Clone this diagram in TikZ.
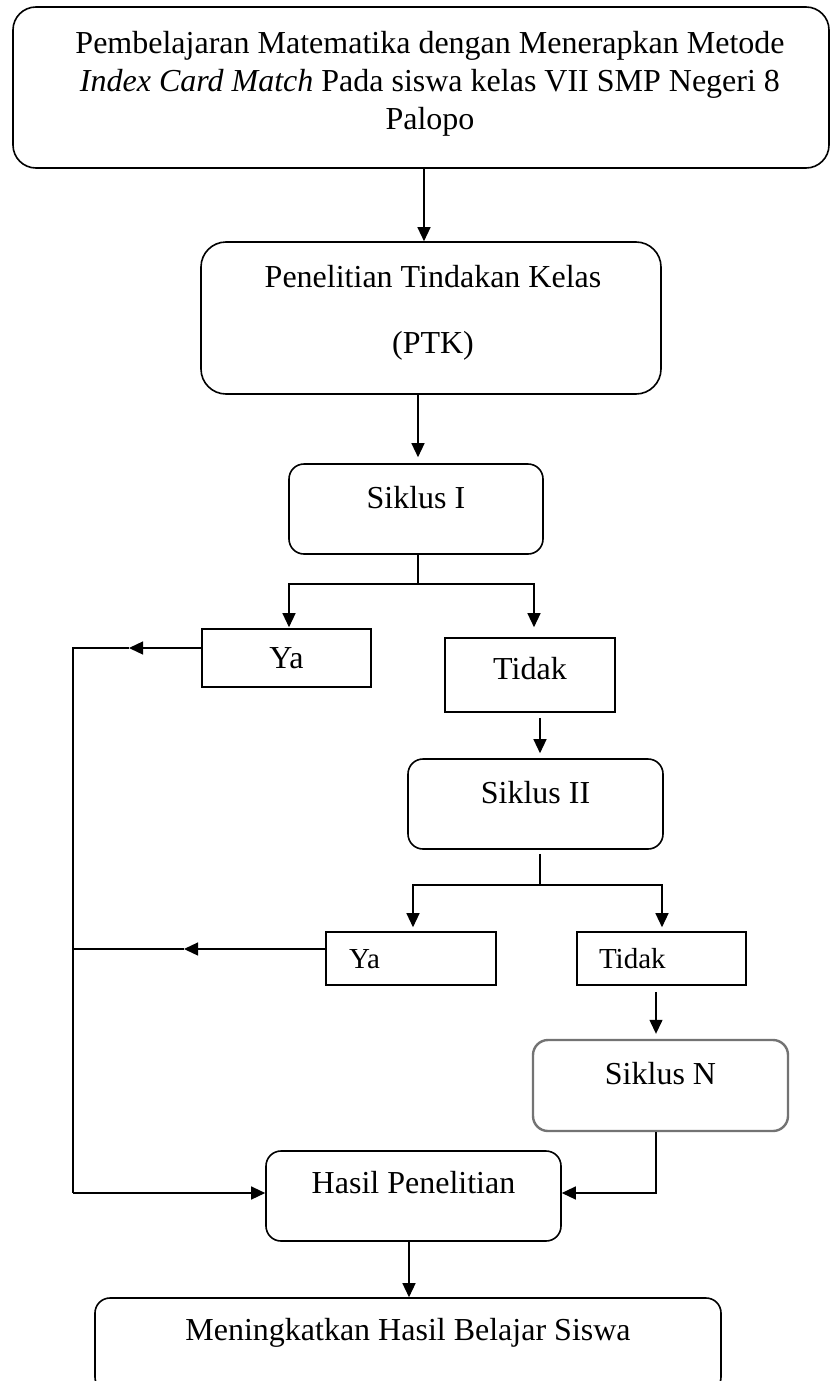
\documentclass[tikz,border=0pt]{standalone}
\usepackage{fontspec}
\setmainfont{Liberation Serif}
\usetikzlibrary{arrows.meta}
\tikzset{
  box/.style={draw, line width=1.6pt, inner sep=0pt, font=\fontsize{32}{38}\selectfont},
  rbox/.style={box, rounded corners=15pt},
  smallbox/.style={box, font=\fontsize{29}{35}\selectfont, align=left},
  txt/.style={inner sep=0pt, align=center, font=\fontsize{32}{38}\selectfont},
  ln/.style={line width=1.3pt},
  arr/.style={line width=1.3pt, -{Triangle[length=14pt,width=13pt]}},
}
\begin{document}
\begin{tikzpicture}[x=1pt,y=-1pt]
\useasboundingbox (0,0) rectangle (831,1381);

% boxes
\node[rbox, rounded corners=23pt, minimum width=816pt, minimum height=161pt] (top) at (421,87.5) {};
\node[txt] (toptext) at (430,83.5) {Pembelajaran Matematika dengan Menerapkan Metode\\ \textit{Index Card Match} Pada siswa kelas VII SMP Negeri 8\\ Palopo};

\node[rbox, rounded corners=25pt, minimum width=460pt, minimum height=152pt] (pen) at (431,318) {};
\node[txt] (pentext) at (433,313) {Penelitian Tindakan Kelas\\[28pt](PTK)};

\node[rbox, minimum width=254pt, minimum height=90pt, text height=19pt, text depth=21pt] (s1) at (416,509) {Siklus I};

\node[box, minimum width=169pt, minimum height=58pt, text height=30pt, text depth=10pt] (ya1) at (286.5,658) {Ya};
\node[box, minimum width=170pt, minimum height=74pt, text height=24pt, text depth=16pt] (tid1) at (530,675) {Tidak};

\node[rbox, minimum width=255pt, minimum height=90pt, text height=19pt, text depth=21pt] (s2) at (535.5,804) {Siklus II};

\node[smallbox, minimum height=53pt, inner xsep=23pt, text width=124pt, text height=29.5pt, text depth=10.5pt] (ya2) at (411,958.5) {Ya};
\node[smallbox, minimum height=53pt, inner xsep=22pt, text width=125pt, text height=29.5pt, text depth=10.5pt] (tid2) at (661.5,958.5) {Tidak};

\node[rbox, draw=black!55, line width=2.4pt, minimum width=255pt, minimum height=91pt, text height=18.5pt, text depth=21.5pt] (sn) at (660.5,1085.5) {Siklus N};

\node[rbox, minimum width=295pt, minimum height=90pt, text height=17pt, text depth=23pt] (hasil) at (413.5,1196) {Hasil Penelitian};

\node[rbox, minimum width=626pt, minimum height=94pt, text height=15pt, text depth=25pt] (goal) at (408,1345) {Meningkatkan Hasil Belajar Siswa};

% helper coordinates
\coordinate (xA) at (424,0);
\coordinate (xB) at (418,0);
\coordinate (xYa1) at (289,0);
\coordinate (xT1) at (534,0);
\coordinate (xC) at (540,0);
\coordinate (xYa2) at (413,0);
\coordinate (xT2) at (662,0);
\coordinate (xD) at (656,0);
\coordinate (xE) at (409,0);
\coordinate (xL) at (73,0);
\coordinate (j1) at (418,584);
\coordinate (j2) at (540,885);
\coordinate (h1) at (129,648);
\coordinate (h2) at (184,949);
\coordinate (yH) at (0,1193);

% connectors
\draw[arr] (top.south -| xA) -- (pen.north -| xA);
\draw[arr, shorten >=6pt] (pen.south -| xB) -- (s1.north -| xB);
\draw[ln] (s1.south -| xB) -- (j1);
\draw[arr, shorten >=1pt] (j1) -| (ya1.north -| xYa1);
\draw[arr, shorten >=10pt] (j1) -| (tid1.north -| xT1);
\draw[arr, shorten <=5pt, shorten >=5pt] (tid1.south -| xC) -- (s2.north -| xC);
\draw[ln, shorten <=4pt] (s2.south -| xC) -- (j2);
\draw[arr, shorten >=4pt] (j2) -| (ya2.north -| xYa2);
\draw[arr, shorten >=4pt] (j2) -| (tid2.north -| xT2);
\draw[arr, shorten <=6pt, shorten >=5pt] (tid2.south -| xD) -- (sn.north -| xD);
\draw[arr] (sn.south -| xD) |- (hasil.east |- yH);
\draw[arr] (ya1.west |- h1) -- (h1);
\draw[ln] (h1) -- (xL |- h1) -- (xL |- yH);
\draw[arr] (xL |- yH) -- (hasil.west |- yH);
\draw[arr] (ya2.west |- h2) -- (h2);
\draw[ln] (h2) -- (xL |- h2);
\draw[arr] (hasil.south -| xE) -- (goal.north -| xE);
\end{tikzpicture}
\end{document}
